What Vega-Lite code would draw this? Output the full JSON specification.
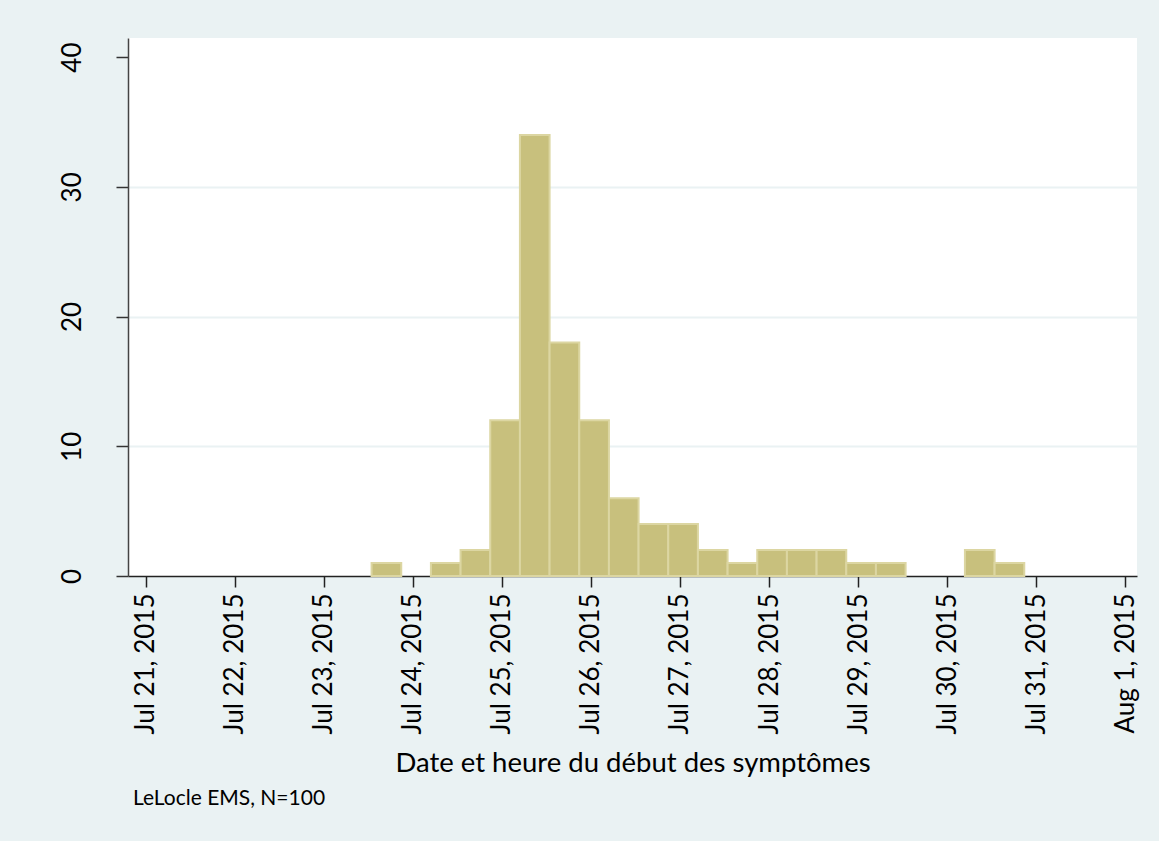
{
  "$schema": "https://vega.github.io/schema/vega-lite/v6.json",
  "autosize": {"type": "none"},
  "width": 1009,
  "height": 538,
  "padding": {"left": 128, "top": 38, "right": 22, "bottom": 265},
  "background": "#EAF2F3",
  "config": {
    "font": "Lato",
    "view": {"fill": "white", "stroke": null}
  },
  "title": {
    "text": "LeLocle EMS, N=100",
    "orient": "bottom",
    "anchor": "start",
    "frame": "group",
    "fontSize": 21,
    "fontWeight": "normal",
    "color": "black",
    "dx": 5,
    "offset": 11
  },
  "data": {
    "values": [
      {"start": "2015-07-23T12:50:00Z", "end": "2015-07-23T20:50:00Z", "count": 1},
      {"start": "2015-07-24T04:50:00Z", "end": "2015-07-24T12:50:00Z", "count": 1},
      {"start": "2015-07-24T12:50:00Z", "end": "2015-07-24T20:50:00Z", "count": 2},
      {"start": "2015-07-24T20:50:00Z", "end": "2015-07-25T04:50:00Z", "count": 12},
      {"start": "2015-07-25T04:50:00Z", "end": "2015-07-25T12:50:00Z", "count": 34},
      {"start": "2015-07-25T12:50:00Z", "end": "2015-07-25T20:50:00Z", "count": 18},
      {"start": "2015-07-25T20:50:00Z", "end": "2015-07-26T04:50:00Z", "count": 12},
      {"start": "2015-07-26T04:50:00Z", "end": "2015-07-26T12:50:00Z", "count": 6},
      {"start": "2015-07-26T12:50:00Z", "end": "2015-07-26T20:50:00Z", "count": 4},
      {"start": "2015-07-26T20:50:00Z", "end": "2015-07-27T04:50:00Z", "count": 4},
      {"start": "2015-07-27T04:50:00Z", "end": "2015-07-27T12:50:00Z", "count": 2},
      {"start": "2015-07-27T12:50:00Z", "end": "2015-07-27T20:50:00Z", "count": 1},
      {"start": "2015-07-27T20:50:00Z", "end": "2015-07-28T04:50:00Z", "count": 2},
      {"start": "2015-07-28T04:50:00Z", "end": "2015-07-28T12:50:00Z", "count": 2},
      {"start": "2015-07-28T12:50:00Z", "end": "2015-07-28T20:50:00Z", "count": 2},
      {"start": "2015-07-28T20:50:00Z", "end": "2015-07-29T04:50:00Z", "count": 1},
      {"start": "2015-07-29T04:50:00Z", "end": "2015-07-29T12:50:00Z", "count": 1},
      {"start": "2015-07-30T04:50:00Z", "end": "2015-07-30T12:50:00Z", "count": 2},
      {"start": "2015-07-30T12:50:00Z", "end": "2015-07-30T20:50:00Z", "count": 1}
    ]
  },
  "mark": {"type": "rect", "fill": "#C8C07D", "stroke": "#DCD6A2", "strokeWidth": 2},
  "encoding": {
    "x": {
      "field": "start",
      "type": "temporal",
      "scale": {
        "type": "utc",
        "domain": [
          {"year": 2015, "month": 7, "date": 20, "hours": 19, "minutes": 9, "utc": true},
          {"year": 2015, "month": 8, "date": 1, "hours": 3, "minutes": 14, "utc": true}
        ],
        "nice": false
      },
      "axis": {
        "title": "Date et heure du début des symptômes",
        "titleFontSize": 27.5,
        "titleFontWeight": "normal",
        "titleColor": "black",
        "titlePadding": 16,
        "values": [
          {"year": 2015, "month": 7, "date": 21, "utc": true},
          {"year": 2015, "month": 7, "date": 22, "utc": true},
          {"year": 2015, "month": 7, "date": 23, "utc": true},
          {"year": 2015, "month": 7, "date": 24, "utc": true},
          {"year": 2015, "month": 7, "date": 25, "utc": true},
          {"year": 2015, "month": 7, "date": 26, "utc": true},
          {"year": 2015, "month": 7, "date": 27, "utc": true},
          {"year": 2015, "month": 7, "date": 28, "utc": true},
          {"year": 2015, "month": 7, "date": 29, "utc": true},
          {"year": 2015, "month": 7, "date": 30, "utc": true},
          {"year": 2015, "month": 7, "date": 31, "utc": true},
          {"year": 2015, "month": 8, "date": 1, "utc": true}
        ],
        "format": "%b %-d, %Y",
        "labelAngle": -90,
        "labelAlign": "right",
        "labelBaseline": "middle",
        "labelFontSize": 26,
        "labelColor": "black",
        "labelPadding": 6,
        "labelOverlap": false,
        "labelBound": false,
        "labelFlush": false,
        "tickSize": 11,
        "tickColor": "#222222",
        "tickWidth": 1.5,
        "domainColor": "#222222",
        "domainWidth": 1.5,
        "grid": false
      }
    },
    "x2": {"field": "end"},
    "y": {
      "field": "count",
      "type": "quantitative",
      "scale": {"domain": [0, 41.47], "nice": false, "zero": true},
      "axis": {
        "title": null,
        "values": [0, 10, 20, 30, 40],
        "labelAngle": -90,
        "labelAlign": "center",
        "labelBaseline": "bottom",
        "labelFontSize": 26,
        "labelColor": "black",
        "labelPadding": 31,
        "tickSize": 12,
        "tickColor": "#333333",
        "tickWidth": 1.5,
        "domainColor": "#444444",
        "domainWidth": 1.5,
        "grid": true,
        "gridColor": "#EAF2F3",
        "gridWidth": 1.8,
        "gridOpacity": {"condition": {"test": "datum.value === 0 || datum.value === 40", "value": 0}, "value": 1}
      }
    },
    "y2": {"datum": 0}
  }
}
